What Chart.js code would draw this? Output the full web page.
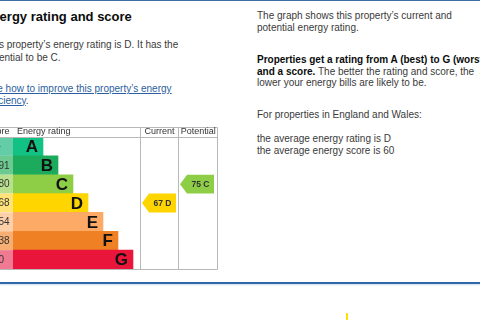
<!DOCTYPE html>
<html lang="en">
<head>
<meta charset="UTF-8">
<title>Energy rating and score</title>
<script src="https://cdn.jsdelivr.net/npm/chart.js"></script>
<style>
  body { margin: 0; width: 480px; height: 320px; overflow: hidden; position: relative; background: #fff;
         font-family: Arial, "Liberation Sans", sans-serif; color: #3a3a3a; }
  .rule-top { position: absolute; left: 0; top: 0; width: 480px; height: 1px; background: #3b6fa6; }
  .rule-bottom { position: absolute; left: 0; top: 282px; width: 480px; height: 2px; background: #2f67a8;
                 box-shadow: 0 1px 2px #c9dcf0; }
  .mark { position: absolute; left: 346px; top: 313px; width: 2px; height: 7px; background: #ffe100; }
  .t { position: absolute; white-space: nowrap; font-size: 10px; line-height: 11.7px; margin: 0; }
  h2 { position: absolute; left: -17px; top: 9px; margin: 0; font-size: 13px; line-height: 15px; color: #0b0c0c; white-space: nowrap; }
  a { color: #2b5f9e; }
  b { color: #0b0c0c; }
  #epc { position: absolute; left: -25px; top: 120px; }
</style>
</head>
<body>
  <div class="rule-top"></div>

  <h2>Energy rating and score</h2>
  <p class="t" style="left:-15px; top:38px; line-height:13px;">This property’s energy rating is D. It has the<br>potential to be C.</p>
  <p class="t" style="left:-15px; top:83px; line-height:11.5px;"><a href="#">See how to improve this property’s energy<br>efficiency</a>.</p>

  <p class="t" style="left:257px; top:10px;">The graph shows this property’s current and<br>potential energy rating.</p>
  <p class="t" style="left:257px; top:54px;"><b>Properties get a rating from A (best) to G (worst)<br>and a score.</b> The better the rating and score, the<br>lower your energy bills are likely to be.</p>
  <p class="t" style="left:257px; top:109px;">For properties in England and Wales:</p>
  <p class="t" style="left:257px; top:133px;">the average energy rating is D<br>the average energy score is 60</p>

  <canvas id="epc" width="248" height="155"></canvas>

  <div class="rule-bottom"></div>
  <div class="mark"></div>

<script>
  // rating bands, top (best) to bottom (worst)
  const ratings = ['A', 'B', 'C', 'D', 'E', 'F', 'G'];
  const scoreBands = ['92+', '81-91', '69-80', '55-68', '39-54', '21-38', '1-20'];
  const bandLength = [2, 3, 4, 5, 6, 7, 8];
  const bandColours = ['#12c184', '#1cab5c', '#8dce46', '#ffd500', '#fcaa65', '#ef8023', '#e9153b'];
  const scoreColours = ['#62cda6', '#6cc98f', '#b9e08f', '#ffe37a', '#fdd0aa', '#f6ae72', '#f07a92'];
  const columnTitles = ['Score', 'Energy rating', 'Current', 'Potential'];

  const currentScore = 67;
  const currentRating = 'D';
  const potentialScore = 75;
  const potentialRating = 'C';

  // table layout (x axis units)
  const xMax = 13.67;
  const currentCol = 8.47;
  const potentialCol = 11.0;
  const boxLeft = 6;
  const headerTop = 7;
  const lineColour = '#b8b8b8';

  function drawArrow(ctx, xl, yt, yb, colour, label) {
    const w = 34, tip = 7, ym = (yt + yb) / 2;
    ctx.fillStyle = colour;
    ctx.beginPath();
    ctx.moveTo(xl, ym);
    ctx.lineTo(xl + tip, yt);
    ctx.lineTo(xl + w, yt);
    ctx.lineTo(xl + w, yb);
    ctx.lineTo(xl + tip, yb);
    ctx.closePath();
    ctx.fill();
    ctx.fillStyle = '#333';
    ctx.font = 'bold 8.5px Arial, "Liberation Sans", sans-serif';
    ctx.textAlign = 'center';
    ctx.textBaseline = 'middle';
    ctx.fillText(label, xl + tip + (w - tip) / 2, ym + 0.5);
  }

  const epcTable = {
    id: 'epcTable',
    beforeDatasetsDraw(chart) {
      const { ctx, chartArea: a, scales: { y } } = chart;
      const half = (y.getPixelForValue(1) - y.getPixelForValue(0)) / 2;
      ctx.save();
      ctx.font = '10px Arial, "Liberation Sans", sans-serif';
      ctx.textBaseline = 'middle';
      ctx.textAlign = 'left';
      ratings.forEach((r, i) => {
        const yc = y.getPixelForValue(i);
        ctx.fillStyle = scoreColours[i];
        ctx.fillRect(boxLeft, yc - half, a.left - boxLeft, half * 2);
        ctx.fillStyle = '#333';
        ctx.fillText(scoreBands[i], boxLeft + 3, yc + 0.5);
      });
      ctx.restore();
    },
    afterDatasetsDraw(chart) {
      const { ctx, chartArea: a, scales: { x, y } } = chart;
      const half = (y.getPixelForValue(1) - y.getPixelForValue(0)) / 2;
      ctx.save();

      // band letters
      ctx.font = 'bold 17px Arial, "Liberation Sans", sans-serif';
      ctx.textAlign = 'right';
      ctx.textBaseline = 'middle';
      ctx.fillStyle = '#111';
      ratings.forEach((r, i) => {
        ctx.fillText(r, x.getPixelForValue(bandLength[i]) - 5, y.getPixelForValue(i) + 1);
      });

      // grid
      const xc = Math.round(x.getPixelForValue(currentCol)) + 0.5;
      const xp = Math.round(x.getPixelForValue(potentialCol)) + 0.5;
      ctx.strokeStyle = lineColour;
      ctx.lineWidth = 1;
      ctx.beginPath();
      ctx.rect(boxLeft + 0.5, headerTop + 0.5, a.right - boxLeft - 1, a.bottom - headerTop);
      ctx.moveTo(boxLeft, a.top + 0.5); ctx.lineTo(a.right, a.top + 0.5);
      ctx.moveTo(xc, headerTop); ctx.lineTo(xc, a.bottom);
      ctx.moveTo(xp, headerTop); ctx.lineTo(xp, a.bottom);
      ctx.stroke();

      // header
      ctx.font = '9px Arial, "Liberation Sans", sans-serif';
      ctx.fillStyle = '#333';
      ctx.textBaseline = 'alphabetic';
      ctx.textAlign = 'left';
      const hy = a.top - 3;
      ctx.fillText(columnTitles[0], boxLeft + 5, hy);
      ctx.fillText(columnTitles[1], a.left + 4, hy);
      ctx.textAlign = 'center';
      ctx.fillText(columnTitles[2], (xc + xp) / 2, hy);
      ctx.fillText(columnTitles[3], (xp + a.right) / 2, hy);

      // current / potential arrows
      const ci = ratings.indexOf(currentRating);
      const pi = ratings.indexOf(potentialRating);
      const cy = y.getPixelForValue(ci);
      const py = y.getPixelForValue(pi);
      drawArrow(ctx, xc + 1.5, cy - half, cy + half, bandColours[ci], currentScore + ' ' + currentRating);
      drawArrow(ctx, xp + 1.5, py - half, py + half, bandColours[pi], potentialScore + ' ' + potentialRating);

      ctx.restore();
    }
  };

  new Chart(document.getElementById('epc'), {
    type: 'bar',
    data: {
      labels: ratings,
      datasets: [{
        data: bandLength,
        backgroundColor: bandColours,
        borderWidth: 0,
        barPercentage: 1,
        categoryPercentage: 1
      }]
    },
    options: {
      indexAxis: 'y',
      responsive: false,
      animation: false,
      layout: { padding: { left: 38, top: 17, right: 5, bottom: 6 } },
      scales: {
        x: { display: false, min: 0, max: xMax },
        y: { display: false }
      },
      plugins: {
        legend: { display: false },
        tooltip: { enabled: false }
      }
    },
    plugins: [epcTable]
  });
</script>
</body>
</html>
